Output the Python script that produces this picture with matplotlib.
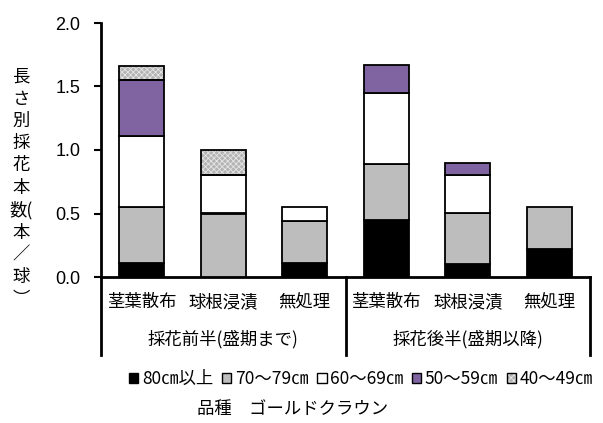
import numpy as np
import matplotlib.pyplot as plt
from matplotlib.patches import Patch
from matplotlib.lines import Line2D
from matplotlib.legend_handler import HandlerTuple
from matplotlib.transforms import blended_transform_factory

plt.rcParams['font.family'] = ['Noto Sans CJK JP', 'DejaVu Sans']
plt.rcParams['hatch.linewidth'] = 0.6

# 処理区と長さ別の採花本数(本/球)
treatments = ['茎葉散布', '球根浸漬', '無処理', '茎葉散布', '球根浸漬', '無処理']
periods = ['採花前半(盛期まで)', '採花後半(盛期以降)']
len_80 = [0.11, 0.00, 0.11, 0.45, 0.10, 0.22]
len_70 = [0.44, 0.50, 0.33, 0.44, 0.40, 0.33]
len_60 = [0.56, 0.30, 0.11, 0.56, 0.30, 0.00]
len_50 = [0.44, 0.00, 0.00, 0.22, 0.10, 0.00]
len_40 = [0.11, 0.20, 0.00, 0.00, 0.00, 0.00]
series_names = ['80㎝以上', '70～79㎝', '60～69㎝', '50～59㎝', '40～49㎝']

fills = ['#000000', '#bdbdbd', '#ffffff', '#8064a2', '#b4b4b4']
hatches = [None, None, None, None, 'xxxxxx']
hatch_col = '#e6e6e6'

fig = plt.figure(figsize=(6.03, 4.23), dpi=100)
W, H = 603, 423
ax = fig.add_axes([101 / W, 1 - 277 / H, (590 - 101) / W, 254 / H])

x = np.arange(len(treatments))
bw = 0.55
bottom = np.zeros(len(x))
for vals, fc, ht in zip([len_80, len_70, len_60, len_50, len_40], fills, hatches):
    vals = np.array(vals)
    m = vals > 0
    if ht:
        # 網掛けは塗りと枠を分けて描く
        ax.bar(x[m], vals[m], bw, bottom=bottom[m], color=fc, hatch=ht,
               edgecolor=hatch_col, linewidth=0, zorder=2)
        ax.bar(x[m], vals[m], bw, bottom=bottom[m], fill=False,
               edgecolor='black', linewidth=1.3, zorder=3)
    else:
        ax.bar(x[m], vals[m], bw, bottom=bottom[m], color=fc,
               edgecolor='black', linewidth=1.3, zorder=3)
    bottom += vals

ax.set_xlim(-0.5, 5.5)
ax.set_ylim(0, 2.0)
yt = np.arange(0, 2.01, 0.5)
ax.set_yticks(yt)
ax.set_yticklabels([f'{v:.1f}' for v in yt], fontsize=13,
                   family=['Liberation Sans', 'DejaVu Sans'])
ax.tick_params(axis='y', direction='out', length=5, width=1.5, pad=10)
ax.set_xticks([])
for s in ['top', 'right']:
    ax.spines[s].set_visible(False)
ax.spines['left'].set_linewidth(2)
ax.spines['bottom'].set_linewidth(2)

# 下部の区切り線と項目ラベル
tr = blended_transform_factory(ax.transData, ax.transAxes)
ybot = (277 - 355) / 254
for xv in [-0.5, 2.5, 5.5]:
    ax.add_line(Line2D([xv, xv], [0, ybot], transform=tr, color='black',
                       lw=2, clip_on=False))
y1 = (277 - 302) / 254
y2 = (277 - 339) / 254
for xi, lab in zip(x, treatments):
    ax.text(xi, y1, lab, transform=tr, ha='center', va='center', fontsize=12.5)
for xc, lab in zip([1, 4], periods):
    ax.text(xc, y2, lab, transform=tr, ha='center', va='center', fontsize=12.5)

# 縦書きの軸ラベル
ylab = '\n'.join(['長', 'さ', '別', '採', '花', '本', '数(', '本', '／', '球', '︶'])
fig.text(21 / W, 1 - 188 / H, ylab, ha='center', va='center', fontsize=12.5,
         linespacing=1.3)

handles = []
for fc, ht in zip(fills, hatches):
    if ht:
        handles.append((Patch(facecolor=fc, edgecolor=hatch_col, hatch=ht, linewidth=0),
                        Patch(fill=False, edgecolor='black', linewidth=1)))
    else:
        handles.append(Patch(facecolor=fc, edgecolor='black', linewidth=1))
fig.legend(handles, series_names, loc='center', bbox_to_anchor=(361 / W, 1 - 379 / H),
           ncol=5, frameon=False, fontsize=12.5, handlelength=0.55, handleheight=0.55,
           handletextpad=0.2, columnspacing=0.5, borderaxespad=0,
           handler_map={tuple: HandlerTuple(ndivide=1, pad=0)})

fig.text(293 / W, 1 - 409 / H, '品種　ゴールドクラウン', ha='center', va='center',
         fontsize=12.5)

fig.savefig('out.png', dpi=100)
